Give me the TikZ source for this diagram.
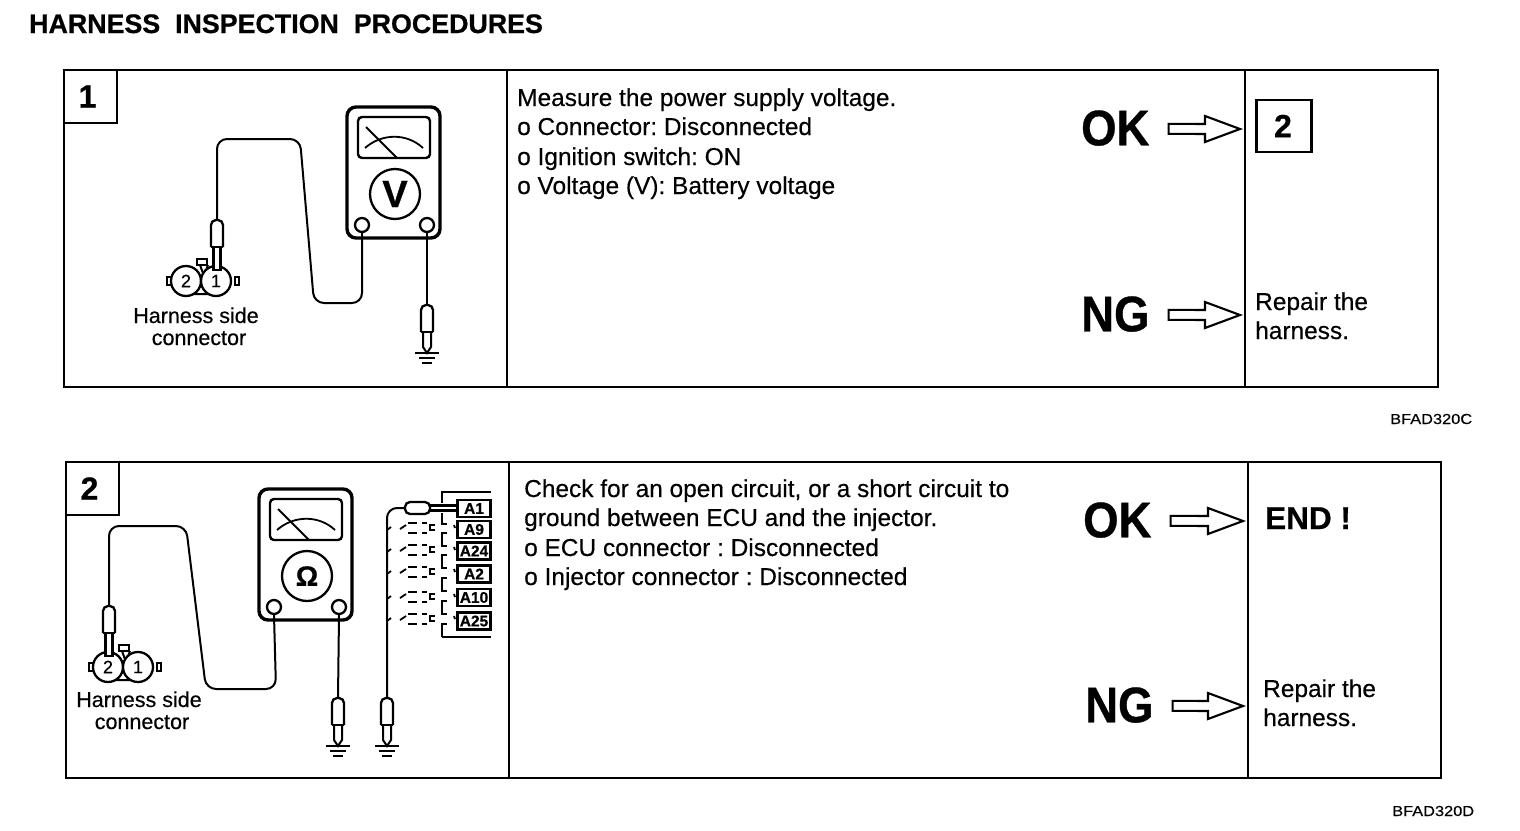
\documentclass[tikz,border=0pt]{standalone}
\usepackage{graphicx}
\usepackage{fontspec}
\setmainfont{Liberation Sans}[UprightFeatures={FakeBold=0.35},BoldFeatures={FakeBold=0.7}]
\usetikzlibrary{calc}
\frenchspacing
\tikzset{
  x=1pt,y=-1pt,
  panel/.style={draw,line width=2.5pt,inner sep=0pt},
  divider/.style={line width=2.5pt},
  stepbox/.style={draw,line width=2.4pt,inner sep=0pt,minimum width=53pt,minimum height=53pt,
    font=\fontsize{32}{32}\selectfont\bfseries},
  body/.style={anchor=base west,inner sep=0pt,font=\fontsize{24.45}{29}\selectfont},
  verdict/.style={anchor=south west,inner sep=0pt,text height=36pt,text depth=0pt,
    font=\fontsize{50}{50}\selectfont\bfseries},
  label/.style={anchor=base,inner sep=0pt,font=\fontsize{21.5}{22}\selectfont},
  code/.style={anchor=base west,inner sep=0pt,font=\fontsize{14.5}{15}\selectfont},
  wire/.style={line width=2pt,rounded corners=10pt},
  pinbox/.style={draw,line width=2.2pt,inner sep=0pt,minimum width=33pt,minimum height=17pt,
    font=\fontsize{15.5}{15}\selectfont\bfseries},
  dashpart/.style={line width=1.8pt},
  hollow/.style={draw,line width=2.1pt,fill=white,to path={
    ($(\tikztostart)+(19,-5)$) -- ($(\tikztotarget)+(-35,-5)$) -- ($(\tikztotarget)+(-35,-13)$)
    -- (\tikztotarget) -- ($(\tikztotarget)+(-35,13)$) -- ($(\tikztotarget)+(-35,5)$)
    -- ($(\tikztostart)+(19,5)$) -- cycle}},
  meter/.pic={
    \draw[line width=3.4pt,rounded corners=9pt] (0,0) rectangle (93,131);
    \draw[line width=2.4pt,rounded corners=4pt] (11,10) rectangle (83,51);
    \draw[line width=2pt] (19,20) -- (50,51);
    \draw[line width=1.8pt] (18,41) .. controls (35,26) and (60,26) .. (76,41);
    \node[draw,circle,line width=2.3pt,minimum size=50pt,inner sep=0pt,font=\fontsize{\metersize}{\metersize}\selectfont\bfseries] (-dial) at (48,87) {\metersym};
    \node[draw,circle,line width=2.3pt,minimum size=14pt,inner sep=0pt,fill=white] (-a) at (15,118) {};
    \node[draw,circle,line width=2.3pt,minimum size=14pt,inner sep=0pt,fill=white] (-b) at (80,118) {};
  },
  conn/.pic={
    \draw[line width=2.2pt,fill=white] (11,-22) rectangle (21,-16);
    \draw[line width=2pt] (14,-16) -- (22,6) (22,-16) -- (14,6) (7,13) -- (30,13);
    \draw[line width=2.2pt] (-19,-4) rectangle (-15,4) (49,-4) rectangle (53,4);
    \node[draw,circle,line width=2.3pt,minimum size=30pt,inner sep=0pt,fill=white,font=\fontsize{18}{18}\selectfont] (-two) at (0,0) {2};
    \node[draw,circle,line width=2.3pt,minimum size=30pt,inner sep=0pt,fill=white,font=\fontsize{18}{18}\selectfont] (-one) at (30,0) {1};
  },
  probe/.pic={
    \coordinate (-top) at (0,0);
    \draw[line width=2.3pt,fill=white,rounded corners=5pt] (-6,27) -- (-6,0) -- (6,0) -- (6,27);
    \draw[line width=2.3pt] (-6,27) -- (6,27);
    \draw[line width=2.3pt,fill=white] (-3.5,27) rectangle (3.5,50);
  },
  gprobe/.pic={
    \coordinate (-top) at (0,0);
    \draw[line width=2.3pt,fill=white,rounded corners=5pt] (-6,27) -- (-6,0) -- (6,0) -- (6,27);
    \draw[line width=2.3pt] (-6,27) -- (6,27);
    \draw[line width=2pt] (-4,27) -- (-4,42) -- (0,48) -- (4,42) -- (4,27);
    \draw[line width=2.2pt] (-12,48) -- (12,48) (-8,53) -- (8,53) (-5,58) -- (5,58);
  }
}
\newcommand{\vd}[1]{\raisebox{1.5pt}[36pt][0pt]{\scalebox{0.91}[1]{#1}}}
\newcommand{\cd}[1]{\scalebox{1.13}[1]{#1}}
\begin{document}
\begin{tikzpicture}
\useasboundingbox (0,0) rectangle (1520,830);
\node[anchor=base west,inner sep=0pt,font=\fontsize{26.8}{26}\selectfont\bfseries] (title) at (29,33) {HARNESS\ \ INSPECTION\ \ PROCEDURES};

% ---------- Panel 1
\draw[panel] (64,70) rectangle (1438,387);
\draw[divider] (507,70) -- (507,387) (1245,70) -- (1245,387);
\node[stepbox] (s1) at (90.5,96.5) {\kern-6pt 1};
\def\metersym{V}\def\metersize{38}
\pic (m1) at (347,107) {meter};
\pic (c1) at (186,281) {conn};
\pic (p1) at (217,220) {probe};
\pic (g1) at (427,305) {gprobe};
\draw[wire] (p1-top) -- (217,139) -- (300,139) -- (314,303) -- (362,303) -- (m1-a.south);
\draw[line width=2pt] (m1-b.south) -- (g1-top);
\node[label] (h1a) at (196,323) {Harness side};
\node[label] (h1b) at (199,345) {connector};
\node[body] (t11) at (517,106) {Measure the power supply voltage.};
\node[body] (t12) at (517,135) {o Connector: Disconnected};
\node[body] (t13) at (517,165) {o Ignition switch: ON};
\node[body] (t14) at (517,194) {o Voltage (V): Battery voltage};
\node[verdict] (ok1) at (1081,147) {\vd{OK}};
\node[verdict] (ng1) at (1081,333) {\vd{NG}};
\node[draw,line width=2.4pt,minimum width=55pt,minimum height=52pt,inner sep=0pt,font=\fontsize{32}{32}\selectfont\bfseries] (go2) at (1284,126) {\kern-2pt 2};
\coordinate (tip1) at (1240,129);
\coordinate (tip2) at (1240,315);
\draw[hollow] (ok1.east) to (tip1);
\draw[hollow] (ng1.east) to (tip2);
\node[body] (r11) at (1255,310) {Repair the};
\node[body] (r12) at (1255,339) {harness.};
\node[code] (bc) at (1390,424) {\cd{BFAD320C}};

% ---------- Panel 2
\draw[panel] (66,462) rectangle (1441,778);
\draw[divider] (509,462) -- (509,778) (1248,462) -- (1248,778);
\node[stepbox] (s2) at (92.5,488.5) {\kern-6pt 2};
\def\metersym{Ω}\def\metersize{28}
\pic (m2) at (259,489) {meter};
\pic (c2) at (108,667) {conn};
\pic (p2) at (109,606) {probe};
\pic (g2) at (338,698) {gprobe};
\pic (g3) at (387,698) {gprobe};
\draw[wire] (p2-top) -- (109,526) -- (186,526) -- (206,689) -- (276,689) -- (m2-a.south);
\draw[line width=2pt] (m2-b.south) -- (g2-top);
\node[label] (h2a) at (139,707) {Harness side};
\node[label] (h2b) at (142,729) {connector};
% ECU pins
\draw[line width=2.2pt] (491,492) -- (442,492) -- (442,503);
\draw[line width=2.2pt] (442,637) -- (491,637);
\node[pinbox] (a1) at (474,508.5) {A1};
\node[pinbox] (a9) at (474,529.5) {A9};
\node[pinbox] (a24) at (474,551) {A24};
\node[pinbox] (a2) at (474,574) {A2};
\node[pinbox] (a10) at (474,597.5) {A10};
\node[pinbox] (a25) at (474,621) {A25};
\draw[line width=2.3pt,fill=white,rounded corners=5pt] (405,502) rectangle (430,514);
\coordinate (leadw) at (405,508);
\draw[line width=2.2pt] (430,505.5) -- (457,505.5) (430,510.5) -- (457,510.5);
\draw[wire] (g3-top) -- (387,508) -- (leadw);
\draw[line width=2.2pt] (442,513) -- (442,524) -- (447,524);
\foreach \ya/\yb in {533/546, 555/568, 578/591, 601/614}
  \draw[line width=2.2pt] (447,\ya) -- (442,\ya) -- (442,\yb) -- (447,\yb);
\draw[line width=2.2pt] (447,624) -- (442,624) -- (442,637);
\foreach \r in {528,550,572,597,619}{
  \draw[dashpart] (387,\r+2) -- (391,\r-1);
  \draw[dashpart] (400,\r+1) -- (406,\r-3);
  \draw[dashpart] (408,\r-5) -- (417,\r-5) (408,\r+5) -- (417,\r+5);
  \draw[dashpart] (422,\r-5) -- (427,\r-5) (422,\r+5) -- (427,\r+5);
  \draw[dashpart] (435,\r-3) -- (430,\r-3) -- (430,\r+2) -- (435,\r+2);
  \draw[dashpart] (454,\r-3) -- (455,\r);
}
\node[body] (t21) at (524,497) {Check for an open circuit, or a short circuit to};
\node[body] (t22) at (524,526) {ground between ECU and the injector.};
\node[body] (t23) at (524,556) {o ECU connector : Disconnected};
\node[body] (t24) at (524,585) {o Injector connector : Disconnected};
\node[verdict] (ok2) at (1083,539) {\vd{OK}};
\node[verdict] (ng2) at (1085,724) {\vd{NG}};
\coordinate (tip3) at (1243,521);
\coordinate (tip4) at (1243,706);
\draw[hollow] (ok2.east) to (tip3);
\draw[hollow] (ng2.east) to (tip4);
\node[anchor=base west,inner sep=0pt,font=\fontsize{31.5}{31}\selectfont\bfseries] (end) at (1265,529) {END !};
\node[body] (r21) at (1263,697) {Repair the};
\node[body] (r22) at (1263,726) {harness.};
\node[code] (bd) at (1392,816) {\cd{BFAD320D}};
\end{tikzpicture}
\end{document}
